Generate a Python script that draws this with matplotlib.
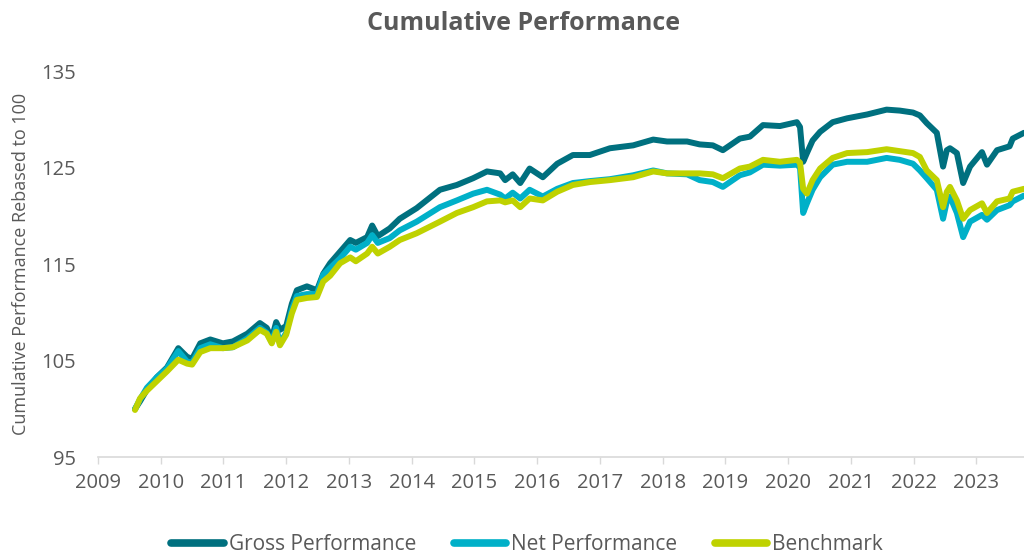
import matplotlib
matplotlib.use("Agg")
import matplotlib.pyplot as plt
import numpy as np

# decimal-year dates
dates = [2009.59, 2009.67, 2009.78, 2009.94, 2010.10, 2010.28, 2010.42, 2010.50, 2010.63, 2010.79,
         2010.99, 2011.15, 2011.38, 2011.58, 2011.69, 2011.77, 2011.84, 2011.90, 2012.00, 2012.09,
         2012.17, 2012.33, 2012.49, 2012.59, 2012.70, 2012.86, 2013.02, 2013.11, 2013.29, 2013.37,
         2013.46, 2013.65, 2013.81, 2014.08, 2014.45, 2014.72, 2014.98, 2015.20, 2015.41, 2015.49,
         2015.61, 2015.73, 2015.88, 2016.09, 2016.32, 2016.57, 2016.84, 2017.16, 2017.53, 2017.85,
         2018.07, 2018.39, 2018.59, 2018.80, 2018.96, 2019.23, 2019.39, 2019.60, 2019.87, 2020.14,
         2020.19, 2020.24, 2020.30, 2020.39, 2020.51, 2020.71, 2020.94, 2021.26, 2021.57, 2021.78,
         2021.99, 2022.10, 2022.21, 2022.37, 2022.47, 2022.53, 2022.58, 2022.69, 2022.79, 2022.90,
         2023.09, 2023.17, 2023.33, 2023.53, 2023.58, 2023.76]

gross = [100.0, 100.8, 102.0, 103.3, 104.3, 106.3, 105.4, 105.2, 106.8, 107.2,
         106.8, 107.0, 107.8, 108.9, 108.4, 107.3, 109.0, 108.2, 108.6, 110.9,
         112.3, 112.7, 112.3, 114.0, 115.1, 116.3, 117.5, 117.2, 117.8, 119.0,
         117.9, 118.7, 119.7, 120.8, 122.7, 123.2, 123.9, 124.6, 124.4, 123.7,
         124.3, 123.4, 124.9, 124.0, 125.4, 126.3, 126.3, 127.0, 127.3, 127.9,
         127.7, 127.7, 127.4, 127.3, 126.8, 128.0, 128.2, 129.4, 129.3, 129.7,
         129.2, 125.6, 126.5, 127.8, 128.7, 129.7, 130.1, 130.5, 131.0, 130.9,
         130.7, 130.4, 129.6, 128.6, 125.1, 126.8, 127.0, 126.5, 123.4, 125.1,
         126.6, 125.3, 126.8, 127.2, 128.0, 128.6]

net = [100.0, 101.0, 102.2, 103.3, 104.2, 106.0, 104.9, 104.8, 106.3, 106.7,
       106.3, 106.4, 107.3, 108.4, 107.9, 106.9, 108.4, 106.8, 107.9, 110.3,
       111.7, 111.9, 111.9, 113.9, 114.6, 115.6, 116.8, 116.5, 117.2, 118.0,
       117.2, 117.7, 118.5, 119.4, 120.9, 121.6, 122.3, 122.7, 122.2, 121.8,
       122.4, 121.8, 122.7, 122.0, 122.8, 123.4, 123.6, 123.8, 124.2, 124.7,
       124.4, 124.3, 123.7, 123.5, 123.0, 124.2, 124.5, 125.3, 125.2, 125.3,
       125.0, 120.3, 121.3, 122.7, 124.0, 125.3, 125.6, 125.6, 126.0, 125.8,
       125.4, 124.7, 123.9, 122.7, 119.7, 121.5, 122.0, 120.3, 117.8, 119.4,
       120.1, 119.6, 120.6, 121.1, 121.5, 122.1]

bench = [99.9, 101.1, 101.9, 102.9, 103.9, 105.1, 104.7, 104.6, 105.9, 106.3,
         106.3, 106.4, 107.1, 108.2, 107.8, 106.8, 108.0, 106.6, 107.7, 109.9,
         111.3, 111.5, 111.6, 113.2, 113.8, 115.1, 115.7, 115.3, 116.1, 116.8,
         116.1, 116.8, 117.5, 118.2, 119.4, 120.3, 120.9, 121.5, 121.6, 121.4,
         121.6, 120.9, 121.8, 121.6, 122.5, 123.2, 123.5, 123.7, 124.0, 124.6,
         124.4, 124.4, 124.4, 124.3, 123.9, 124.9, 125.1, 125.8, 125.6, 125.8,
         125.5, 122.8, 122.3, 123.7, 124.9, 126.0, 126.5, 126.6, 126.9, 126.7,
         126.5, 126.1, 124.7, 123.7, 120.9, 122.5, 123.0, 121.6, 119.7, 120.6,
         121.3, 120.3, 121.5, 121.8, 122.5, 122.8]

years = list(range(2009, 2024))
yticks = [95, 105, 115, 125, 135]

grey = '#595959'
plt.rcParams['font.family'] = ['Open Sans', 'DejaVu Sans']

fig = plt.figure(figsize=(10.24, 5.59), dpi=100)
ax = fig.add_axes([98/1024, 1 - 457.3/559, 1 - 98/1024, (457.3 - 71)/559])

style = dict(lw=4.3, solid_capstyle='round', solid_joinstyle='round')
ax.plot(dates, gross, color='#00707F', label='Gross Performance', **style)
ax.plot(dates, net, color='#00B0C8', label='Net Performance', **style)
ax.plot(dates, bench, color='#BFD200', label='Benchmark', **style)

ax.set_xlim(2009, 2023.76)
ax.set_ylim(95, 135)
ax.set_xticks(years)
ax.set_xticklabels([str(y) for y in years])
ax.set_yticks(yticks)

for s in ['top', 'right', 'left']:
    ax.spines[s].set_visible(False)
ax.spines['bottom'].set_color('#D9D9D9')
ax.spines['bottom'].set_linewidth(1.2)

ax.tick_params(axis='x', colors='#D9D9D9', labelcolor=grey, labelsize=14.5, length=5, width=1.0, pad=6)
ax.tick_params(axis='y', length=0, labelcolor=grey, labelsize=14.5, pad=16)

ax.set_ylabel('Cumulative Performance Rebased to 100', fontsize=13, color=grey)
ax.yaxis.set_label_coords(-68/926, 0.5)

fig.text(524/1024, 1 - 23/559, 'Cumulative Performance', ha='center', va='center',
         fontsize=18, fontweight='bold', color=grey)

# legend right at the bottom edge, kept just inside so the text isn't clipped
leg = fig.legend(loc='center', bbox_to_anchor=(527/1024, 1 - 545/559), ncol=3, frameon=False,
                 fontsize=15, handlelength=2.5, handletextpad=0.25, columnspacing=1.8,
                 labelcolor=grey, borderpad=0.1)
for h in leg.get_lines():
    h.set_linewidth(5.5)
    h.set_solid_capstyle('round')

fig.savefig('out.png', dpi=100)
